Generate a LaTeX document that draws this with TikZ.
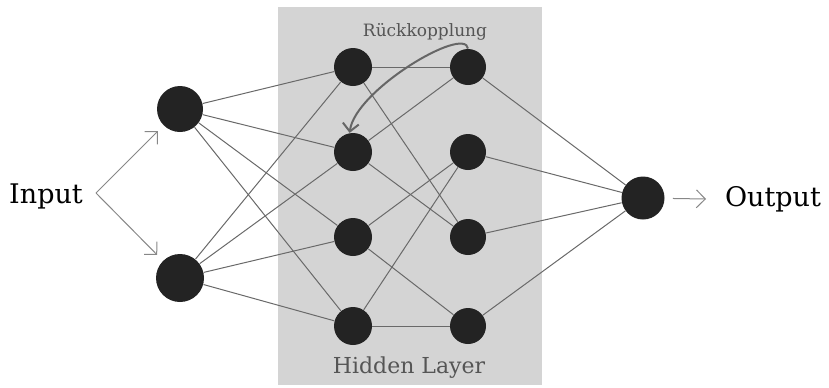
\documentclass[tikz,border=0pt]{standalone}
\usepackage{fontspec}
\setmainfont{DejaVu Serif}
\usetikzlibrary{arrows.meta}
\definecolor{layergray}{RGB}{212,212,212}
\definecolor{linkgray}{RGB}{105,105,105}
\definecolor{neuronblack}{RGB}{35,35,35}
\definecolor{labelgray}{RGB}{85,85,85}

\begin{document}
\begin{tikzpicture}[x=0.5pt,y=-0.5pt,
    neuron/.style={circle,fill=neuronblack,inner sep=0pt,minimum size=#1},
    link/.style={linkgray,line width=0.5pt},
    flow/.style={linkgray!80,line width=0.5pt,-{Straight Barb[length=4.5pt,width=9pt]}},
    feedback/.style={labelgray!90,line width=1pt,-{Straight Barb[length=4pt,width=8pt]}}]
                \useasboundingbox (0,0) rectangle (829,387);
                \fill[layergray] (278,7) rectangle (542,385);

                % neurons
                \node[neuron=23pt] (I1) at (180,109) {};
                \node[neuron=24pt] (I2) at (180,278) {};
                \foreach[count=\j] \y in {67,152,237,326} {
                    \node[neuron=19pt] (H\j) at (353,\y) {};
                    \node[neuron=18pt] (G\j) at (468,\y) {};
                }
                \node[neuron=21.5pt] (O) at (643,198) {};

                % weights
                \foreach \i in {1,2}
                    \foreach \j in {1,...,4}
                        \draw[link] (I\i) -- (H\j);
                \foreach \a/\b in {H1/G1,H1/G3,H2/G1,H2/G3,H3/G2,H3/G4,H4/G2,H4/G4}
                    \draw[link] (\a) -- (\b);
                \foreach \j in {1,...,4}
                    \draw[link] (G\j) -- (O);

                % labels and in/out arrows
                \node[font=\fontsize{13.5}{16}\selectfont] (input) at (46,196) {Input};
                \node[font=\fontsize{13.5}{16}\selectfont,anchor=west] (output) at (718,199) {Output};
                \coordinate (split) at (96,193);
                \coordinate (outend) at (706,199);
                \draw[flow,shorten >=4pt] (split) -- (I1);
                \draw[flow,shorten >=4pt] (split) -- (I2);
                \draw[flow,shorten <=4pt] (O) -- (outend);

                \node[font=\fontsize{11}{13}\selectfont,labelgray] (hidden) at (409,368) {Hidden Layer};
                \node[font=\fontsize{8.5}{10}\selectfont,labelgray] (rueck) at (425,32) {Rückkopplung};
                \draw[feedback] (G1.north) .. controls (465,25) and (355,90) .. (H2.100);
\end{tikzpicture}
\end{document}
